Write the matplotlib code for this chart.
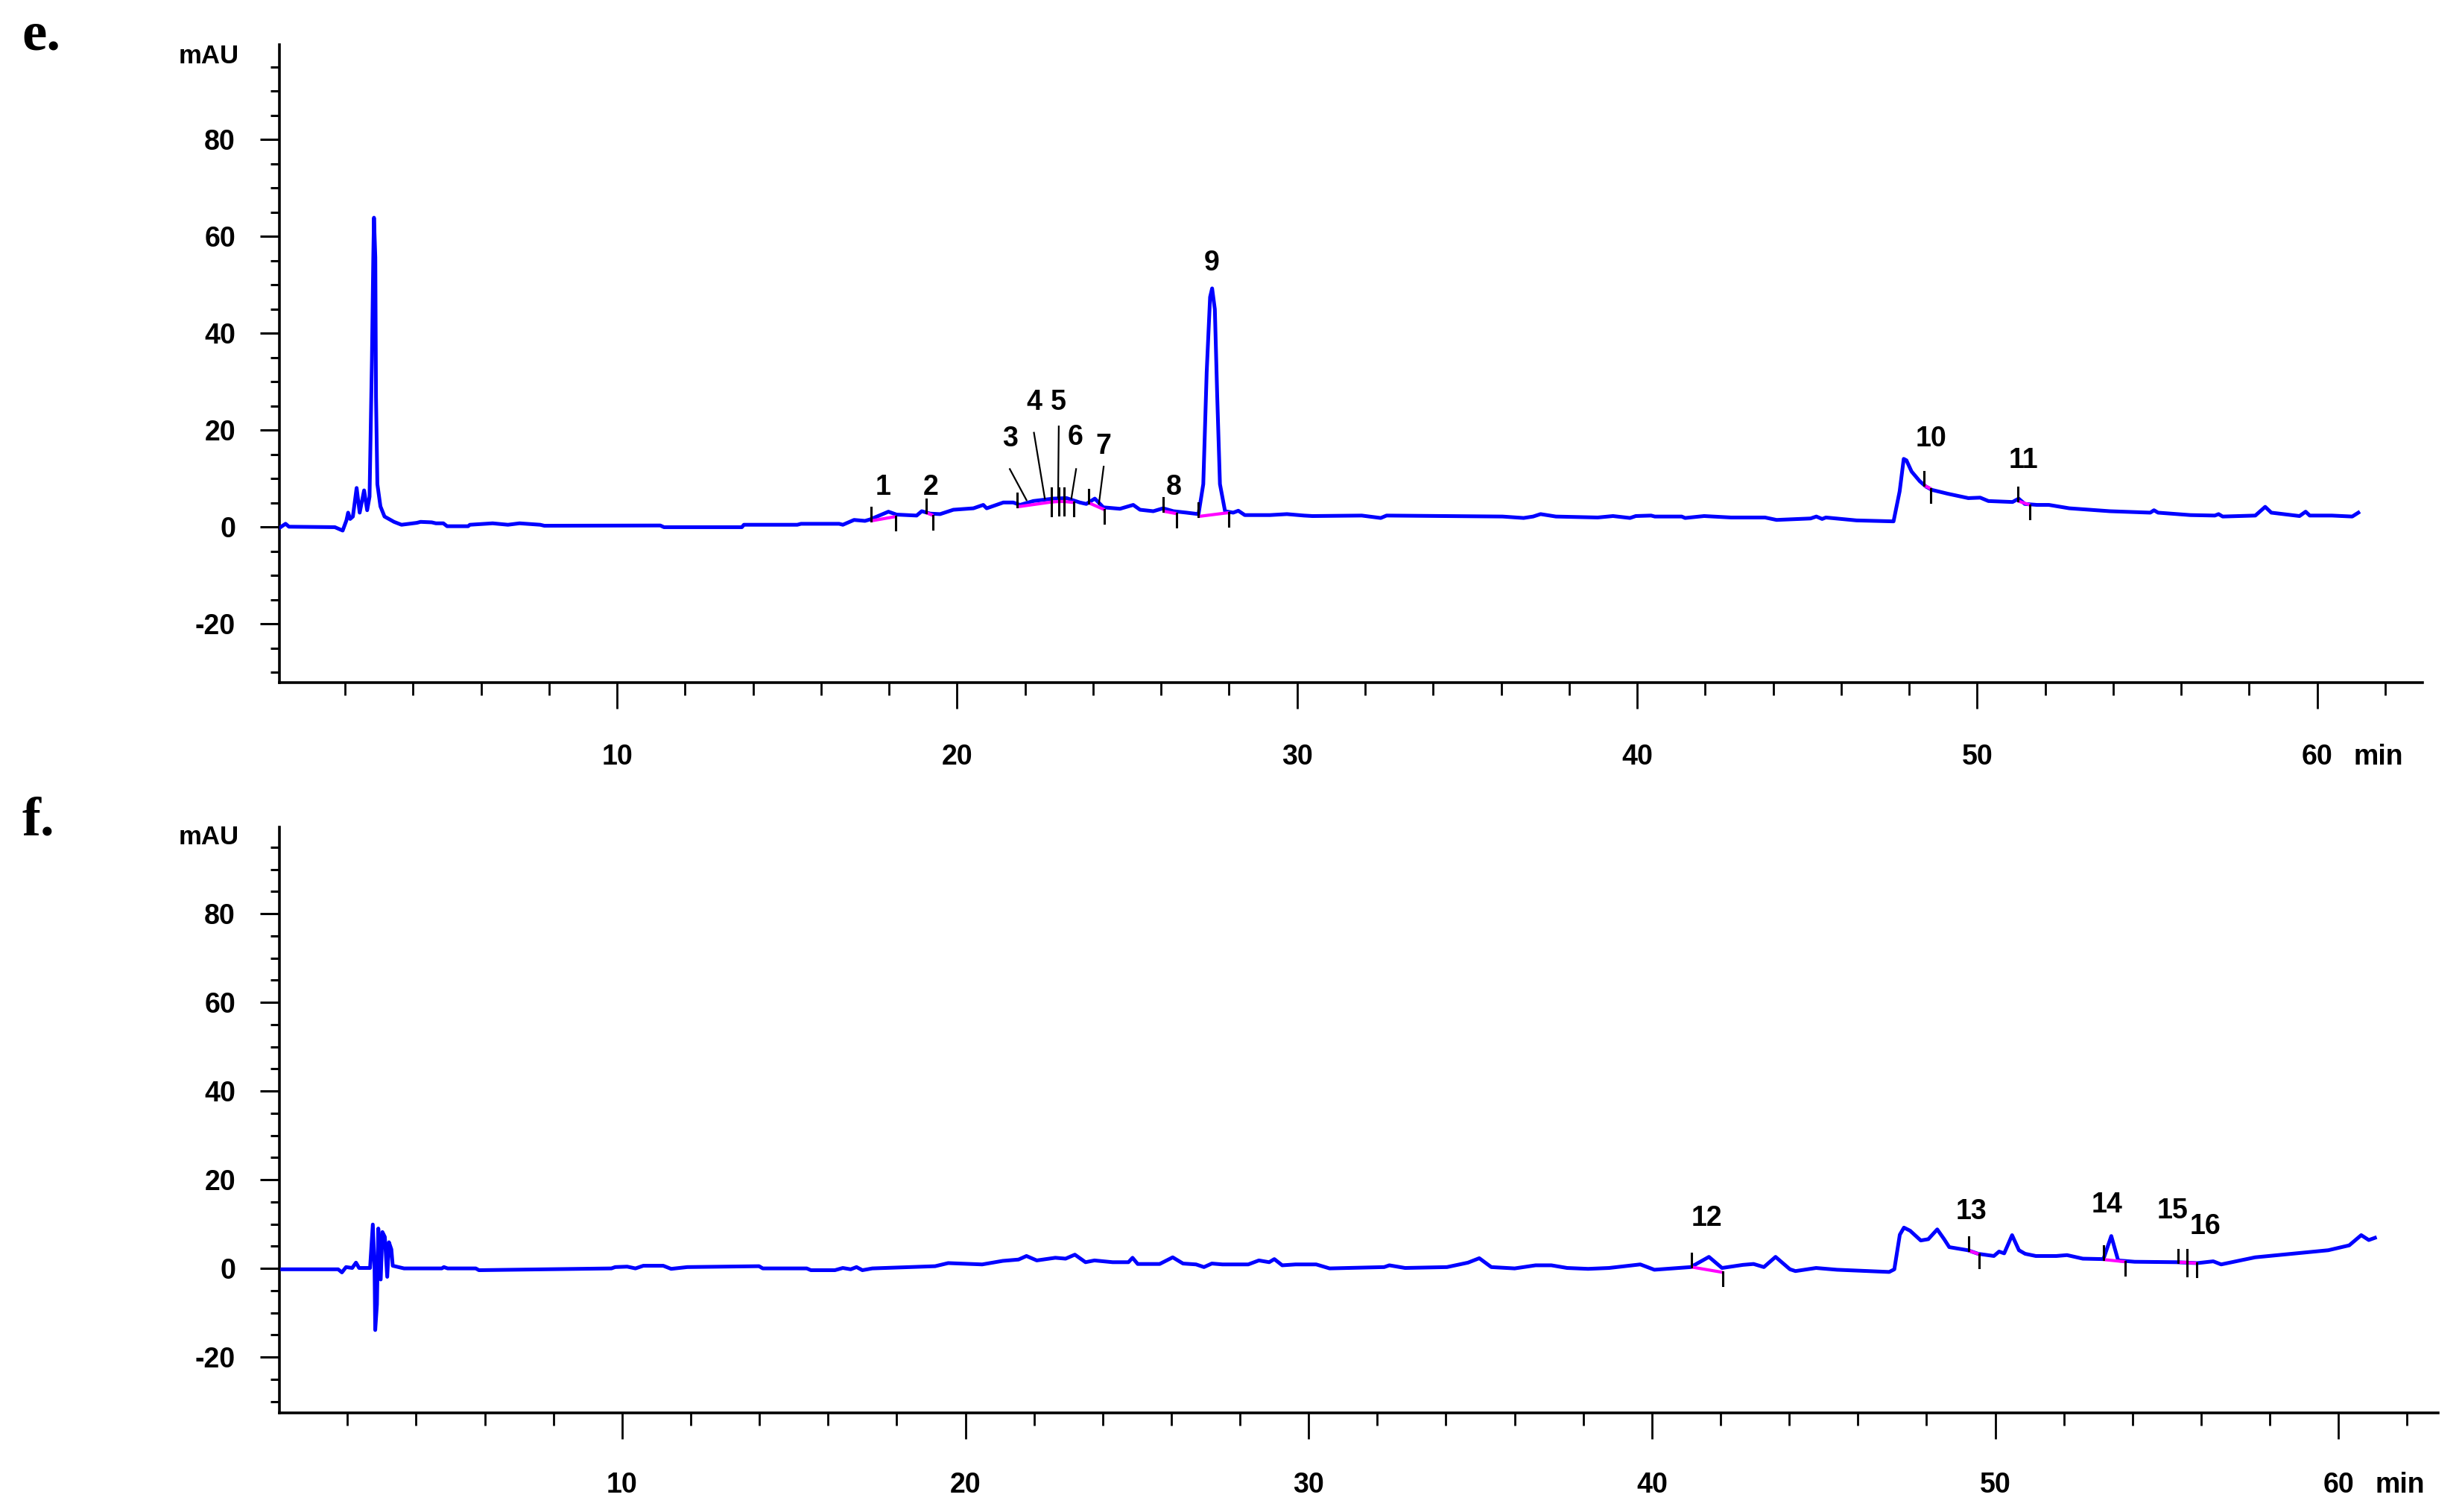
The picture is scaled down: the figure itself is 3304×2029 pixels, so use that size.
import matplotlib
matplotlib.use("Agg")
import matplotlib.pyplot as plt
from matplotlib import font_manager
from matplotlib.ticker import MultipleLocator

# trace e (time in min, absorbance in mAU)
e_time = [0.08, 0.25, 0.35, 1.70, 1.93, 2.04, 2.09, 2.15, 2.23, 2.34, 2.43, 2.56, 2.65, 2.72,
          2.79, 2.83, 2.85, 2.89, 2.91, 2.95, 3.04, 3.16, 3.44, 3.66, 4.11, 4.22, 4.55, 4.67,
          4.89, 5.00, 5.62, 5.67, 6.34, 6.79, 7.13, 7.74, 7.86, 11.27, 11.38, 13.67, 13.73,
          15.30, 15.41, 16.53, 16.64, 16.97, 17.29, 17.44, 17.98, 18.22, 18.81, 18.96, 19.21,
          19.50, 19.89, 20.48, 20.77, 20.87, 21.36, 21.65, 21.85, 22.24, 22.83, 23.22, 23.61,
          23.80, 24.05, 24.30, 24.79, 25.18, 25.38, 25.77, 26.06, 26.36, 26.75, 27.10, 27.24,
          27.34, 27.44, 27.50, 27.58, 27.65, 27.73, 27.88, 28.12, 28.27, 28.46, 29.20, 29.70,
          30.20, 30.45, 31.90, 32.46, 32.63, 36.04, 36.66, 36.94, 37.16, 37.61, 38.84, 39.29,
          39.79, 39.96, 40.41, 40.52, 41.31, 41.41, 41.97, 42.76, 43.76, 44.10, 45.10, 45.27,
          45.44, 45.55, 46.45, 47.54, 47.72, 47.84, 47.92, 48.07, 48.31, 48.49, 48.67, 49.14,
          49.74, 50.09, 50.33, 51.04, 51.22, 51.40, 51.76, 52.11, 52.71, 53.90, 55.09, 55.20,
          55.32, 56.27, 56.99, 57.10, 57.22, 58.18, 58.47, 58.65, 59.48, 59.66, 59.78, 60.43,
          61.03, 61.21]
e_mau = [-0.1, 0.7, 0.1, 0.0, -0.7, 1.4, 3.0, 1.7, 2.2, 8.1, 3.0, 7.6, 3.5, 6.3,
         34.6, 55.7, 63.9, 55.7, 26.9, 8.9, 4.3, 2.2, 1.1, 0.5, 0.9, 1.1, 1.0, 0.8,
         0.8, 0.2, 0.2, 0.5, 0.8, 0.5, 0.8, 0.5, 0.3, 0.35, 0.0, 0.0, 0.5,
         0.5, 0.7, 0.7, 0.5, 1.5, 1.3, 1.6, 3.2, 2.6, 2.4, 3.3, 2.8,
         2.7, 3.6, 3.9, 4.6, 3.9, 5.1, 5.1, 4.6, 5.4, 5.9, 6.0, 5.1,
         4.8, 5.9, 4.1, 3.8, 4.6, 3.6, 3.3, 3.9, 3.3, 3.0, 2.7, 8.9,
         32.0, 47.5, 49.3, 45.0, 27.0, 8.9, 3.3, 3.0, 3.4, 2.5, 2.5, 2.7,
         2.4, 2.3, 2.4, 1.9, 2.4, 2.2, 1.9, 2.2, 2.7, 2.2, 2.0, 2.3,
         1.9, 2.3, 2.4, 2.2, 2.2, 1.9, 2.3, 2.0, 2.0, 1.5, 1.8, 2.2,
         1.7, 2.0, 1.4, 1.2, 7.4, 14.1, 13.8, 11.5, 9.5, 8.4, 7.7, 6.9,
         6.0, 6.1, 5.4, 5.2, 5.9, 4.8, 4.6, 4.6, 3.9, 3.3, 3.0, 3.5,
         3.0, 2.5, 2.4, 2.7, 2.2, 2.4, 4.2, 3.0, 2.3, 3.2, 2.4, 2.4,
         2.2, 3.0]

# trace f
f_time = [0.10, 1.73, 1.84, 1.96, 2.14, 2.25, 2.34, 2.66, 2.74, 2.79, 2.81, 2.86, 2.90, 2.97,
          3.02, 3.09, 3.16, 3.21, 3.28, 3.32, 3.65, 4.75, 4.81, 4.92, 5.74, 5.83, 9.69, 9.80,
          10.15, 10.39, 10.62, 11.20, 11.43, 11.90, 13.99, 14.10, 15.38, 15.50, 16.20, 16.43,
          16.66, 16.83, 17.00, 17.29, 19.12, 19.50, 20.49, 21.09, 21.55, 21.78, 22.08, 22.62,
          22.92, 23.19, 23.50, 23.76, 24.29, 24.75, 24.87, 25.02, 25.66, 26.04, 26.34, 26.72,
          26.95, 27.18, 27.49, 28.24, 28.55, 28.85, 29.00, 29.23, 29.62, 30.22, 30.61, 32.20,
          32.35, 32.81, 34.03, 34.64, 34.97, 35.32, 36.00, 36.61, 37.07, 37.53, 38.14, 38.75,
          39.66, 40.07, 41.13, 41.66, 42.04, 42.65, 42.96, 43.26, 43.60, 44.02, 44.18, 44.78,
          45.39, 46.91, 47.06, 47.22, 47.34, 47.52, 47.83, 48.05, 48.31, 48.51, 48.66, 49.20,
          49.50, 49.96, 50.11, 50.26, 50.49, 50.69, 50.87, 51.18, 51.78, 52.09, 52.55, 53.15,
          53.38, 53.58, 54.06, 55.28, 55.89, 56.35, 56.58, 57.57, 58.63, 59.70, 60.31, 60.66,
          60.88, 61.06]
f_mau = [-0.2, -0.2, -0.9, 0.3, 0.1, 1.3, 0.1, 0.1, 9.9, 0.3, -13.9, -8.1, 9.0, -2.5,
         8.2, 7.1, -1.9, 5.9, 4.3, 0.6, 0.0, 0.0, 0.3, 0.0, 0.0, -0.4, 0.0, 0.3,
         0.4, 0.0, 0.6, 0.6, -0.1, 0.3, 0.5, 0.0, 0.0, -0.4, -0.4, 0.1,
         -0.2, 0.3, -0.4, 0.0, 0.5, 1.2, 0.9, 1.7, 2.0, 2.8, 1.8, 2.4,
         2.2, 3.1, 1.4, 1.8, 1.4, 1.4, 2.4, 1.0, 1.0, 2.5, 1.1, 0.9,
         0.3, 1.1, 0.9, 0.9, 1.8, 1.4, 2.1, 0.7, 0.9, 0.9, 0.0, 0.3,
         0.7, 0.1, 0.3, 1.3, 2.3, 0.3, 0.0, 0.7, 0.7, 0.1, -0.1, 0.1,
         0.9, -0.3, 0.3, 2.6, 0.1, 0.8, 1.0, 0.3, 2.6, -0.2, -0.6, 0.1,
         -0.3, -0.8, -0.2, 7.6, 9.2, 8.5, 6.3, 6.6, 8.8, 6.6, 4.8, 4.1,
         3.3, 2.8, 3.8, 3.4, 7.5, 4.1, 3.3, 2.8, 2.8, 3.0, 2.2, 2.1,
         7.3, 1.8, 1.5, 1.4, 1.2, 1.6, 0.9, 2.5, 3.3, 4.1, 5.2, 7.5,
         6.4, 6.9]

# integration events: peak number, start time/baseline, end time/baseline
e_peaks = [1, 2, 3, 4, 5, 6, 7, 8, 9, 10, 11]
e_start_t = [17.47, 19.10, 21.77, 22.78, 23.00, 23.15, 23.88, 26.07, 27.08, 48.43, 51.20]
e_start_v = [1.3, 3.0, 4.2, 5.2, 5.3, 5.3, 5.0, 3.3, 2.2, 8.7, 5.4]
e_end_t = [18.20, 19.30, 22.78, 23.00, 23.15, 23.43, 24.34, 26.45, 27.99, 48.64, 51.55]
e_end_v = [2.2, 2.4, 5.2, 5.3, 5.3, 5.1, 3.6, 2.8, 3.0, 7.9, 4.6]
e_label_t = [17.83, 19.23, 21.55, 22.26, 22.97, 23.48, 24.31, 26.37, 27.49, 48.64, 51.37]
e_label_v = [8.2, 8.2, 18.2, 25.7, 25.7, 18.5, 16.7, 8.2, 54.6, 18.2, 13.8]
# leader lines (peaks 3-7)
e_lead_peaks = [3, 4, 5, 6, 7]
e_lead_t0 = [21.55, 22.26, 22.99, 23.50, 24.31]
e_lead_v0 = [12.0, 19.5, 20.8, 12.0, 12.5]
e_lead_t1 = [22.04, 22.58, 22.97, 23.36, 24.17]
e_lead_v1 = [5.6, 5.9, 6.1, 5.9, 4.8]

f_peaks = [12, 13, 14, 15, 16]
f_start_t = [41.16, 49.23, 53.15, 55.33, 55.59]
f_start_v = [0.3, 4.0, 2.0, 1.3, 1.3]
f_end_t = [42.07, 49.53, 53.79, 55.59, 55.86]
f_end_v = [-0.9, 3.2, 1.5, 1.3, 1.2]
f_label_t = [41.60, 49.30, 53.26, 55.16, 56.12]
f_label_v = [11.3, 12.8, 14.3, 12.9, 9.4]

x_major = 10
x_minor = 2
y_major = 20
y_minor = 5

names = {f.name for f in font_manager.fontManager.ttflist}
lab_font = 'Liberation Sans Narrow' if 'Liberation Sans Narrow' in names else 'Liberation Sans'
plt.rcParams['axes.unicode_minus'] = False

fig = plt.figure(figsize=(33.04, 20.29), dpi=100)
ax_e = fig.add_axes([0.1135, 0.5485, 0.9840 - 0.1135, 0.9704 - 0.5485])
ax_f = fig.add_axes([0.1135, 0.0655, 0.9903 - 0.1135, 0.4529 - 0.0655])


def style_axis(ax, xlim, ylim, xpad):
    ax.set_xlim(*xlim)
    ax.set_ylim(*ylim)
    for s in ['top', 'right']:
        ax.spines[s].set_visible(False)
    for s in ['left', 'bottom']:
        ax.spines[s].set_linewidth(2.6)
    ax.xaxis.set_major_locator(MultipleLocator(x_major))
    ax.xaxis.set_minor_locator(MultipleLocator(x_minor))
    ax.yaxis.set_major_locator(MultipleLocator(y_major))
    ax.yaxis.set_minor_locator(MultipleLocator(y_minor))
    ax.tick_params(axis='x', which='major', length=25, width=2, pad=xpad)
    ax.tick_params(axis='x', which='minor', length=12, width=2)
    ax.tick_params(axis='y', which='major', length=18.5, width=2.2, pad=24)
    ax.tick_params(axis='y', which='minor', length=8.5, width=2.2)
    for lab in ax.get_xticklabels() + ax.get_yticklabels():
        lab.set_fontfamily(lab_font)
        lab.set_fontweight('bold')
        lab.set_fontsize(27)
    ax.annotate('mAU', xy=(0, 97.3), xycoords=('axes fraction', 'data'),
                xytext=(-39, 0), textcoords='offset points', ha='right', va='center',
                fontsize=25, fontweight='bold', family=lab_font)
    ax.annotate('min', xy=(61.8, 0), xycoords=('data', 'axes fraction'),
                xytext=(0, -(25 + xpad)), textcoords='offset points', ha='center', va='top',
                fontsize=27, fontweight='bold', family=lab_font)


def draw_events(ax, peaks, st, sv, et, ev, lt, lv, tick_len):
    for i in range(len(peaks)):
        ax.plot([st[i], et[i]], [sv[i], ev[i]], color='#ff00ff', lw=3.0, zorder=4,
                solid_capstyle='butt')
        ax.plot([st[i], st[i]], [sv[i], sv[i] + tick_len], color='black', lw=2.2, zorder=5)
        ax.plot([et[i], et[i]], [ev[i], ev[i] - tick_len], color='black', lw=2.2, zorder=5)
        ax.text(lt[i], lv[i], str(peaks[i]), ha='center', va='center', fontsize=27,
                fontweight='bold', family=lab_font, zorder=6)


ax_e.plot(e_time, e_mau, color='#0000ff', lw=3.6, zorder=3)
style_axis(ax_e, (0.07, 63.1), (-32.1, 99.6), 34)
draw_events(ax_e, e_peaks, e_start_t, e_start_v, e_end_t, e_end_v, e_label_t, e_label_v, 2.8)
for i in range(len(e_lead_peaks)):
    ax_e.plot([e_lead_t0[i], e_lead_t1[i]], [e_lead_v0[i], e_lead_v1[i]], color='black',
              lw=1.6, zorder=5)

ax_f.plot(f_time, f_mau, color='#0000ff', lw=3.6, zorder=3)
style_axis(ax_f, (0.02, 62.9), (-32.6, 99.5), 32)
draw_events(ax_f, f_peaks, f_start_t, f_start_v, f_end_t, f_end_v, f_label_t, f_label_v, 3.0)

fig.text(0.0088, 0.967, 'e.', fontsize=54, fontweight='bold', family='Liberation Serif',
         ha='left', va='baseline')
fig.text(0.0088, 0.448, 'f.', fontsize=54, fontweight='bold', family='Liberation Serif',
         ha='left', va='baseline')

fig.savefig('out.png', dpi=100)
